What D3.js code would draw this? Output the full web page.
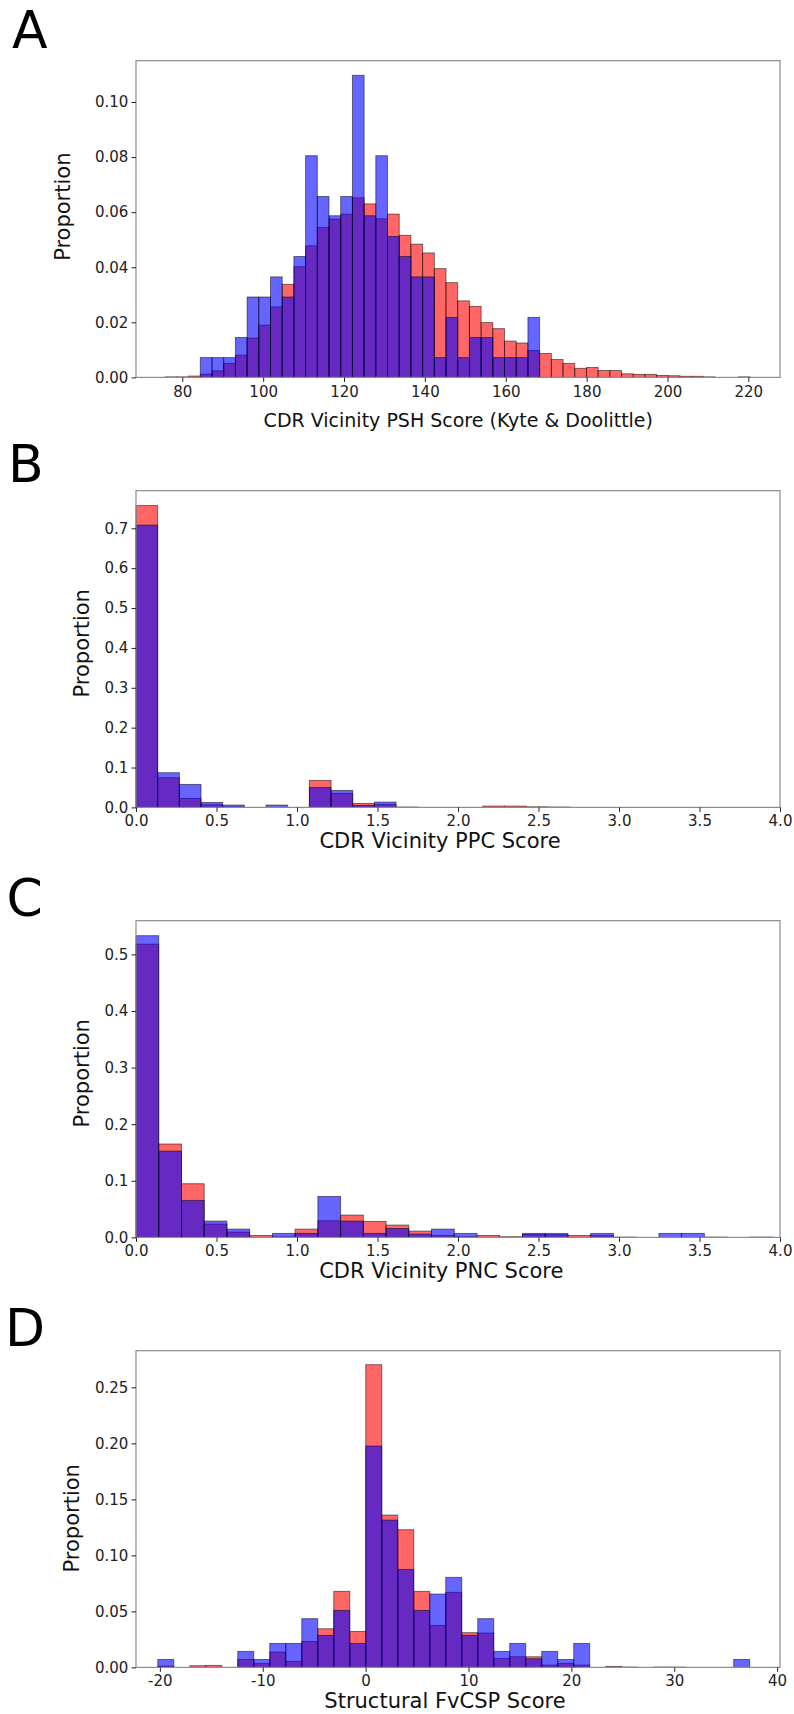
<!DOCTYPE html>
<html lang="en">
<head>
<meta charset="utf-8">
<title>CDR vicinity score distributions</title>
<script src="https://d3js.org/d3.v7.min.js"></script>
<style>
  body { margin: 0; background: #fff; }
  svg { display: block; }
</style>
</head>
<body>
<svg id="fig" width="794" height="1714"></svg>
<script>
// ---- data (proportions per histogram bin) ----

// A: CDR Vicinity PSH Score, 50 bins
var pshStart = 75.77, pshWidth = 2.894;
var pshRed = [0.0002, 0.0002, 0.0005, 0.0012, 0.0024, 0.0051, 0.0081, 0.0143, 0.019, 0.0256,
              0.0338, 0.0402, 0.0478, 0.0545, 0.0575, 0.0593, 0.0652, 0.063, 0.0576, 0.0593,
              0.0516, 0.0484, 0.0452, 0.0395, 0.0344, 0.0278, 0.0258, 0.0199, 0.0177, 0.0132,
              0.0125, 0.0098, 0.0087, 0.0065, 0.0051, 0.0033, 0.0036, 0.0025, 0.0025, 0.0013,
              0.0011, 0.0011, 0.0007, 0.0006, 0.0004, 0.0004, 0.0002, 0, 0, 0.0002];
var pshBlue = [0, 0, 0, 0.0072, 0.0072, 0.0072, 0.0145, 0.0292, 0.0292, 0.0365,
               0.0292, 0.0439, 0.0805, 0.0657, 0.0587, 0.0657, 0.1097, 0.0587, 0.0805, 0.0512,
               0.0439, 0.0365, 0.0365, 0.0072, 0.0218, 0.0072, 0.0145, 0.0145, 0.0072, 0.0072,
               0.0072, 0.0218, 0, 0, 0, 0, 0, 0, 0, 0,
               0, 0, 0, 0, 0, 0, 0, 0, 0, 0];
var pshXTicks = [80, 100, 120, 140, 160, 180, 200, 220];
var pshYTicks = [0, 0.02, 0.04, 0.06, 0.08, 0.10];

// B: CDR Vicinity PPC Score, 20 bins
var ppcStart = 0, ppcWidth = 0.1346;
var ppcRed = [0.757, 0.0744, 0.0226, 0.0067, 0.001, 0, 0, 0, 0.0677, 0.035,
              0.010, 0.0075, 0.001, 0, 0, 0, 0.0033, 0.0033, 0.0015, 0.001];
var ppcBlue = [0.708, 0.087, 0.0577, 0.0125, 0.0059, 0, 0.0059, 0, 0.050, 0.0426,
               0.005, 0.0134, 0, 0, 0, 0, 0, 0, 0, 0];
var ppcXTicks = [0, 0.5, 1.0, 1.5, 2.0, 2.5, 3.0, 3.5, 4.0];
var ppcYTicks = [0, 0.1, 0.2, 0.3, 0.4, 0.5, 0.6, 0.7];

// C: CDR Vicinity PNC Score, 28 bins
var pncStart = 0, pncWidth = 0.1412;
var pncRed = [0.518, 0.165, 0.0948, 0.0236, 0.0094, 0.0035, 0.001, 0.0147, 0.0294, 0.0395,
              0.0283, 0.0218, 0.0112, 0.0035, 0.0012, 0.0035, 0.0012, 0.0053, 0.0047, 0.0035,
              0.003, 0.0006, 0, 0, 0, 0.0006, 0, 0.0006];
var pncBlue = [0.533, 0.1525, 0.0654, 0.0289, 0.0147, 0, 0.0071, 0.0071, 0.0724, 0.0289,
               0.0071, 0.0159, 0.0059, 0.0147, 0.0071, 0, 0, 0.0071, 0.0071, 0,
               0.0071, 0, 0, 0.0071, 0.0071, 0, 0, 0];
var pncXTicks = [0, 0.5, 1.0, 1.5, 2.0, 2.5, 3.0, 3.5, 4.0];
var pncYTicks = [0, 0.1, 0.2, 0.3, 0.4, 0.5];

// D: Structural FvCSP Score, 37 bins
var fvStart = -20.2, fvWidth = 1.555;
var fvRed = [0.0012, 0, 0.0015, 0.0018, 0, 0.0071, 0.0036, 0.0137, 0.0054, 0.0232,
             0.0345, 0.0679, 0.0321, 0.2702, 0.136, 0.1229, 0.0679, 0.0375, 0.067, 0.031,
             0.0307, 0.008, 0.0095, 0.0095, 0.0021, 0.0036, 0.0021, 0, 0.0009, 0.0003,
             0, 0.0003, 0.0003, 0, 0, 0, 0];
var fvBlue = [0.0071, 0, 0, 0, 0, 0.0143, 0.0071, 0.0214, 0.0214, 0.0435,
              0.0286, 0.0509, 0.0214, 0.1976, 0.1315, 0.0875, 0.0509, 0.0655, 0.0804, 0.0286,
              0.0435, 0.0143, 0.0214, 0.0077, 0.0143, 0.0071, 0.0214, 0, 0, 0,
              0, 0, 0, 0, 0, 0, 0.0071];
var fvXTicks = [-20, -10, 0, 10, 20, 30, 40];
var fvYTicks = [0, 0.05, 0.10, 0.15, 0.20, 0.25];

// ---- layout ----
var FONT = '"DejaVu Sans", Verdana, sans-serif';
var plotLeft = 136, plotRight = 780, plotH = 316.7, firstTop = 60.7, step = 430;

var panels = [
  { letter: 'A', lx: 12, ly: 48.3, start: pshStart, width: pshWidth, red: pshRed, blue: pshBlue,
    xDomain: [68.55, 227.83], yDomain: [0, 0.115], xTicks: pshXTicks, yTicks: pshYTicks,
    xFmt: d3.format('d'), yFmt: d3.format('.2f'), xPad: 4.9,
    xlabel: 'CDR Vicinity PSH Score (Kyte & Doolittle)', xlSize: 19, xlX: 458.3, xlY: 426.7,
    ylX: 70.3, ylY: 206.7 },
  { letter: 'B', lx: 8, ly: 481.7, start: ppcStart, width: ppcWidth, red: ppcRed, blue: ppcBlue,
    xDomain: [0, 4], yDomain: [0, 0.7943], xTicks: ppcXTicks, yTicks: ppcYTicks,
    xFmt: d3.format('.1f'), yFmt: d3.format('.1f'), xPad: 3.2,
    xlabel: 'CDR Vicinity PPC Score', xlSize: 21, xlX: 440, xlY: 848.3,
    ylX: 88.6, ylY: 643.3 },
  { letter: 'C', lx: 6.5, ly: 915.5, start: pncStart, width: pncWidth, red: pncRed, blue: pncBlue,
    xDomain: [0, 4], yDomain: [0, 0.5595], xTicks: pncXTicks, yTicks: pncYTicks,
    xFmt: d3.format('.1f'), yFmt: d3.format('.1f'), xPad: 3.2,
    xlabel: 'CDR Vicinity PNC Score', xlSize: 21, xlX: 441.3, xlY: 1278.3,
    ylX: 89.3, ylY: 1073.3 },
  { letter: 'D', lx: 5, ly: 1346, start: fvStart, width: fvWidth, red: fvRed, blue: fvBlue,
    xDomain: [-22.32, 40.28], yDomain: [0, 0.2827], xTicks: fvXTicks, yTicks: fvYTicks,
    xFmt: function(d) { return String(d); }, yFmt: d3.format('.2f'), xPad: 3.2,
    xlabel: 'Structural FvCSP Score', xlSize: 21, xlX: 445, xlY: 1708.3,
    ylX: 79.3, ylY: 1518.3 }
];

var svg = d3.select('#fig').attr('font-family', FONT);

panels.forEach(function(p, i) {
  var top = firstTop + step * i, bottom = top + plotH;
  var x = d3.scaleLinear().domain(p.xDomain).range([plotLeft, plotRight]);
  var y = d3.scaleLinear().domain(p.yDomain).range([bottom, top]);
  var g = svg.append('g');

  // red histogram first, blue drawn over it
  [[p.red, 'red'], [p.blue, 'blue']].forEach(function(s) {
    var bins = s[0].map(function(v, k) {
      return { v: v, x0: p.start + k * p.width, x1: p.start + (k + 1) * p.width };
    }).filter(function(d) { return d.v > 0; });
    g.append('g').selectAll('rect')
      .data(bins)
      .enter()
      .append('rect')
      .attr('x', function(d) { return x(d.x0); })
      .attr('width', function(d) { return x(d.x1) - x(d.x0); })
      .attr('y', function(d) { return y(d.v); })
      .attr('height', function(d) { return bottom - y(d.v); })
      .attr('fill', s[1])
      .attr('fill-opacity', 0.6)
      .attr('stroke', '#000')
      .attr('stroke-opacity', 0.55)
      .attr('stroke-width', 0.9);
  });

  // frame
  g.append('rect')
    .attr('x', plotLeft).attr('y', top)
    .attr('width', plotRight - plotLeft).attr('height', plotH)
    .attr('fill', 'none').attr('stroke', '#8c8c8c').attr('stroke-width', 1.2);

  var xAxis = g.append('g')
    .attr('transform', 'translate(0,' + bottom + ')')
    .call(d3.axisBottom(x).tickValues(p.xTicks).tickFormat(p.xFmt).tickSize(4.5).tickPadding(p.xPad));
  var yAxis = g.append('g')
    .attr('transform', 'translate(' + plotLeft + ',0)')
    .call(d3.axisLeft(y).tickValues(p.yTicks).tickFormat(p.yFmt).tickSize(4.5).tickPadding(3.2));

  [xAxis, yAxis].forEach(function(a) {
    a.select('.domain').remove();
    a.attr('font-family', FONT).attr('font-size', 15).style('color', '#222');
    a.selectAll('.tick line').attr('stroke-width', 1);
  });

  g.append('text')
    .attr('x', p.xlX).attr('y', p.xlY)
    .attr('text-anchor', 'middle')
    .attr('font-size', p.xlSize)
    .attr('fill', '#111')
    .text(p.xlabel);

  g.append('text')
    .attr('transform', 'translate(' + p.ylX + ',' + p.ylY + ') rotate(-90)')
    .attr('text-anchor', 'middle')
    .attr('font-size', 21)
    .attr('fill', '#111')
    .text('Proportion');

  g.append('text')
    .attr('x', p.lx).attr('y', p.ly)
    .attr('font-size', 52)
    .attr('fill', '#000')
    .text(p.letter);
});
</script>
</body>
</html>
